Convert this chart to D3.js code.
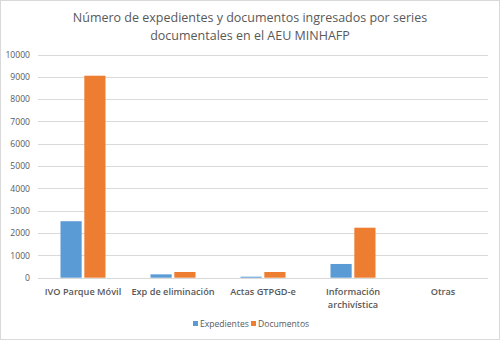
<!DOCTYPE html>
<html>
<head>
<meta charset="utf-8">
<script src="https://cdn.jsdelivr.net/npm/d3@7"></script>
<style>
  html, body { margin: 0; padding: 0; background: #fff; }
  svg { display: block; }
</style>
</head>
<body>
<svg id="chart" width="500" height="340"></svg>
<script>
// Series and categories
const categories = ["IVO Parque Móvil", "Exp de eliminación", "Actas GTPGD-e", "Información archivística", "Otras"];
const categoryLines = [["IVO Parque Móvil"], ["Exp de eliminación"], ["Actas GTPGD-e"], ["Información", "archivística"], ["Otras"]];
const seriesNames = ["Expedientes", "Documentos"];
const expedientes = [2530, 150, 45, 615, 0];
const documentos = [9050, 255, 255, 2240, 0];
const yTicks = [0, 1000, 2000, 3000, 4000, 5000, 6000, 7000, 8000, 9000, 10000];
const titleLines = ["Número de expedientes y documentos ingresados por series", "documentales en el AEU MINHAFP"];

const colors = ["#5B9BD5", "#ED7D31"];
const textColor = "#595959";
const font = "'Open Sans', 'Liberation Sans', sans-serif";

const svg = d3.select("#chart");
const W = 500, H = 340;
const margin = { left: 38, right: 12, top: 54.5, bottom: 62.3 };

// outer frame
svg.append("rect").attr("x", 0.5).attr("y", 0.5).attr("width", W - 1).attr("height", H - 1)
  .attr("fill", "#fff").attr("stroke", "#D9D9D9");

// title
svg.append("text")
  .attr("text-anchor", "middle")
  .attr("font-family", font)
  .attr("font-size", 12.5)
  .attr("fill", textColor)
  .selectAll("tspan").data(titleLines).join("tspan")
  .attr("x", W / 2)
  .attr("y", (d, i) => 21.5 + i * 18.5)
  .text(d => d);

const x = d3.scaleBand().domain(categories).range([margin.left, W - margin.right]);
const y = d3.scaleLinear().domain([0, 10000]).range([H - margin.bottom, margin.top]);
const inner = d3.scaleBand().domain(seriesNames).range([0, 45]).paddingInner(5 / 45);

// gridlines
svg.append("g").selectAll("line").data(yTicks).join("line")
  .attr("x1", margin.left).attr("x2", W - margin.right)
  .attr("y1", d => Math.round(y(d)) + 0.5).attr("y2", d => Math.round(y(d)) + 0.5)
  .attr("stroke", "#D9D9D9").attr("stroke-width", 1);

// y axis labels
const yAxis = d3.axisLeft(y).tickValues(yTicks).tickSize(0).tickPadding(8).tickFormat(d3.format("d"));
const gy = svg.append("g").attr("transform", `translate(${margin.left},0)`).call(yAxis);
gy.select(".domain").remove();
gy.selectAll("text").attr("font-family", font).attr("font-size", 8.6).attr("fill", textColor);

// bars
const groups = svg.append("g").selectAll("g").data(categories).join("g")
  .attr("transform", d => `translate(${x(d) + x.bandwidth() / 2 - 22.5},0)`);
const seriesData = [expedientes, documentos];
groups.selectAll("rect").data((d, i) => seriesNames.map((s, k) => ({ s, v: seriesData[k][i], k })))
  .join("rect")
  .attr("x", d => inner(d.s))
  .attr("width", inner.bandwidth())
  .attr("y", d => y(d.v))
  .attr("height", d => y(0) - y(d.v))
  .attr("fill", d => colors[d.k]);

// category labels
const catG = svg.append("g").attr("font-family", font).attr("font-size", 9.2)
  .attr("font-weight", 600).attr("fill", textColor).attr("text-anchor", "middle");
catG.selectAll("text").data(categories).join("text")
  .attr("transform", d => `translate(${x(d) + x.bandwidth() / 2},0)`)
  .selectAll("tspan").data((d, i) => categoryLines[i]).join("tspan")
  .attr("x", 0)
  .attr("y", (d, j) => 295 + j * 12.5)
  .text(d => d);

// legend
const legend = svg.append("g").attr("font-family", font).attr("font-size", 8.6).attr("fill", textColor);
const legendItems = [{ name: seriesNames[0], x: 193 }, { name: seriesNames[1], x: 251 }];
legendItems.forEach((it, i) => {
  legend.append("rect").attr("x", it.x).attr("y", 321).attr("width", 5).attr("height", 5).attr("fill", colors[i]);
  legend.append("text").attr("x", it.x + 7).attr("y", 327).text(it.name);
});
</script>
</body>
</html>
